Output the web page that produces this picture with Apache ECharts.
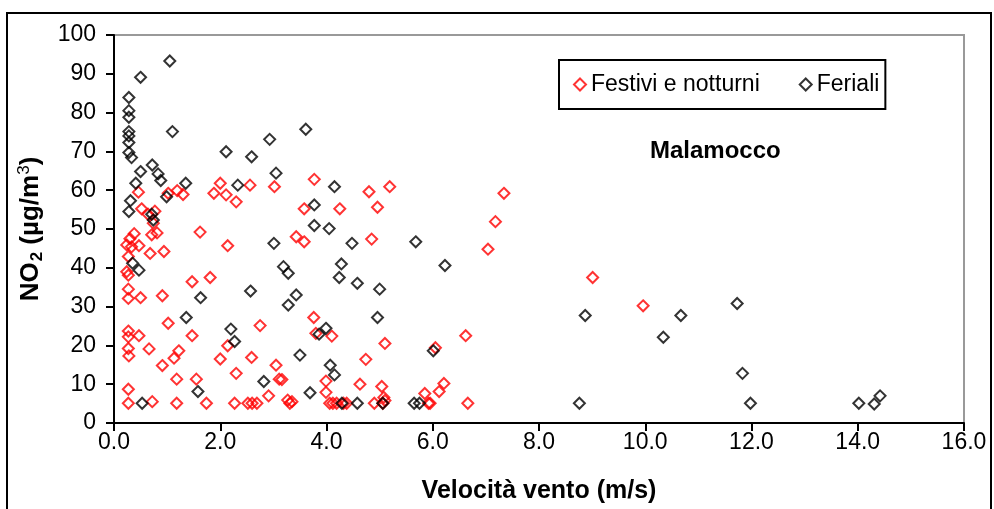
<!DOCTYPE html>
<html>
<head>
<meta charset="utf-8">
<script src="https://cdn.jsdelivr.net/npm/echarts@6/dist/echarts.min.js"></script>
<style>
  html, body { margin: 0; padding: 0; background: #fff; }
  #chart { width: 994px; height: 509px; }
</style>
</head>
<body>
<div id="chart"></div>
<script>
// Festivi e notturni (rosso): [velocità vento m/s, NO2 µg/m3]
var festivi = [
  [0.46, 59.5], [1.02, 59.2], [1.19, 59.9], [1.30, 58.9], [1.88, 59.2], [2.00, 61.8],
  [2.11, 58.8], [2.30, 57.0], [2.56, 61.3], [3.02, 60.9], [3.77, 62.8], [4.80, 59.6],
  [5.19, 60.9], [3.58, 55.2], [4.25, 55.2], [4.96, 55.6], [7.34, 59.2], [7.18, 51.9],
  [7.04, 44.8], [9.01, 37.5], [9.96, 30.2], [6.62, 22.5], [6.21, 10.2], [6.12, 8.1],
  [6.66, 5.1], [0.52, 55.2], [0.64, 53.8], [0.77, 54.6], [0.74, 51.5], [0.38, 48.8],
  [0.30, 47.5], [1.62, 49.2], [0.81, 49.0], [0.24, 45.9], [0.33, 45.4], [0.47, 45.7],
  [0.71, 48.5], [0.68, 43.7], [0.94, 44.2], [2.14, 45.7], [0.27, 42.9], [0.24, 39.0],
  [0.27, 38.1], [1.47, 36.4], [1.81, 37.5], [0.27, 34.5], [0.27, 32.1], [0.50, 32.3],
  [0.91, 32.8], [1.02, 25.7], [2.75, 25.1], [2.14, 19.9], [1.47, 22.5], [0.27, 23.7],
  [0.27, 22.2], [0.47, 22.5], [0.27, 19.2], [0.28, 17.3], [0.66, 19.1], [1.22, 18.6],
  [1.13, 16.7], [0.91, 14.8], [2.00, 16.5], [2.59, 16.9], [2.30, 12.8], [3.05, 14.9],
  [1.18, 11.3], [1.55, 11.3], [0.27, 8.7], [0.27, 5.1], [0.72, 5.5], [1.18, 5.1],
  [1.74, 5.1], [2.27, 5.1], [2.52, 5.1], [2.60, 5.1], [2.69, 5.1], [2.91, 7.0],
  [3.11, 11.3], [3.43, 48.0], [3.58, 46.7], [4.85, 47.4], [3.76, 27.2], [3.80, 23.1],
  [4.10, 22.4], [5.10, 20.5], [6.05, 19.4], [4.74, 16.4], [3.16, 11.2], [3.99, 10.8],
  [4.63, 10.0], [5.04, 9.4], [5.85, 7.6], [3.99, 7.9], [5.08, 6.6], [3.27, 5.9],
  [3.31, 5.1], [3.35, 5.5], [4.06, 5.1], [4.12, 5.1], [4.19, 5.1], [4.32, 5.1],
  [4.38, 5.1], [4.90, 5.1], [5.06, 5.1], [5.10, 5.8], [5.92, 5.1], [5.95, 5.1]
];

// Feriali (nero)
var feriali = [
  [1.05, 93.3], [0.50, 89.1], [0.28, 83.9], [0.28, 80.5], [0.28, 78.8], [0.28, 75.1],
  [0.28, 74.0], [0.28, 72.3], [1.10, 75.1], [0.28, 69.7], [0.33, 68.4], [2.11, 69.9],
  [2.93, 73.1], [2.59, 68.6], [0.50, 64.8], [0.72, 66.5], [0.83, 64.2], [0.88, 62.5],
  [0.41, 61.8], [1.35, 61.8], [2.33, 61.3], [3.05, 64.4], [0.99, 58.3], [0.31, 57.3],
  [0.28, 54.5], [0.71, 53.8], [0.74, 52.3], [3.61, 75.7], [4.15, 60.9], [3.77, 56.2],
  [3.77, 50.9], [4.05, 50.1], [6.23, 40.6], [8.87, 27.7], [8.76, 5.1], [6.01, 18.6],
  [10.67, 27.7], [10.34, 22.1], [11.73, 30.8], [11.83, 12.8], [11.98, 5.1], [14.02, 5.1],
  [14.31, 4.9], [14.42, 7.0], [0.35, 41.2], [0.47, 39.4], [3.01, 46.3], [2.57, 34.0],
  [1.63, 32.3], [1.36, 27.2], [2.20, 24.2], [2.27, 21.0], [2.82, 10.7], [1.58, 8.1],
  [0.53, 5.1], [4.48, 46.3], [5.68, 46.7], [3.19, 40.3], [3.28, 38.6], [4.28, 41.0],
  [4.24, 37.5], [4.58, 36.0], [5.00, 34.5], [3.43, 33.0], [3.28, 30.4], [4.96, 27.2],
  [3.86, 22.9], [3.99, 24.4], [3.50, 17.5], [4.07, 14.9], [4.15, 12.4], [3.69, 7.8],
  [4.29, 5.1], [4.58, 5.1], [5.06, 5.1], [5.65, 5.1], [5.75, 5.1]
];

var xTicks = { min: 0, max: 16, step: 2 };
var yTicks = { min: 0, max: 100, step: 10 };

var font = '"Liberation Sans", Arial, sans-serif';

var chart = echarts.init(document.getElementById('chart'), null, { renderer: 'canvas' });
chart.setOption({
  backgroundColor: '#fff',
  animation: false,
  textStyle: { fontFamily: font, color: '#000' },
  grid: {
    left: 114, right: 30, top: 35, bottom: 86,
    show: true, borderColor: '#999', borderWidth: 2, backgroundColor: 'transparent'
  },
  legend: {
    left: 559, top: 60,
    padding: [13, 6, 13, 14],
    itemGap: 39,
    itemWidth: 12, itemHeight: 12,
    borderColor: '#000', borderWidth: 2,
    textStyle: { fontFamily: font, fontSize: 23, color: '#000' },
    data: ['Festivi e notturni', 'Feriali']
  },
  xAxis: {
    type: 'value',
    min: xTicks.min, max: xTicks.max, interval: xTicks.step,
    name: 'Velocità vento (m/s)',
    nameLocation: 'middle', nameGap: 56,
    nameTextStyle: { fontFamily: font, fontSize: 25, fontWeight: 'bold', color: '#000' },
    axisLine: { lineStyle: { color: '#000', width: 2 } },
    axisTick: { lineStyle: { color: '#000', width: 2 }, length: 8 },
    axisLabel: {
      fontFamily: font, fontSize: 23, color: '#000', margin: 8,
      formatter: function (v) { return v.toFixed(1); }
    },
    splitLine: { show: false }
  },
  yAxis: {
    type: 'value',
    min: yTicks.min, max: yTicks.max, interval: yTicks.step,
    name: '{b|NO}{sub|2}{b| (µg/m}{sup|3}{b|)}',
    nameLocation: 'middle', nameGap: 68,
    nameTextStyle: {
      fontFamily: font, fontSize: 26, fontWeight: 'bold', color: '#000',
      rich: {
        b: { fontFamily: font, fontSize: 26, fontWeight: 'bold', lineHeight: 30, verticalAlign: 'middle' },
        sub: { fontFamily: font, fontSize: 17, fontWeight: 'bold', lineHeight: 30, verticalAlign: 'bottom', padding: [0, 0, 0, 1] },
        sup: { fontFamily: font, fontSize: 17, fontWeight: 'normal', lineHeight: 30, verticalAlign: 'top' }
      }
    },
    axisLine: { lineStyle: { color: '#000', width: 2 } },
    axisTick: { lineStyle: { color: '#000', width: 2 }, length: 8 },
    axisLabel: { fontFamily: font, fontSize: 23, color: '#000', margin: 18 },
    splitLine: { show: false }
  },
  graphic: [
    {
      type: 'rect', silent: true,
      shape: { x: 7, y: 13, width: 984, height: 520 },
      style: { fill: 'none', stroke: '#000', lineWidth: 2 }
    },
    {
      type: 'text', left: 650, top: 139,
      style: { text: 'Malamocco', fontFamily: font, fontSize: 24, fontWeight: 'bold', fill: '#000' }
    }
  ],
  series: [
    {
      name: 'Festivi e notturni', type: 'scatter', symbol: 'diamond', symbolSize: 11,
      itemStyle: { color: 'rgba(0,0,0,0)', borderColor: '#ff0000', borderWidth: 2 },
      data: festivi
    },
    {
      name: 'Feriali', type: 'scatter', symbol: 'diamond', symbolSize: 11,
      itemStyle: { color: 'rgba(0,0,0,0)', borderColor: '#000', borderWidth: 2 },
      data: feriali
    }
  ]
});
</script>
</body>
</html>
